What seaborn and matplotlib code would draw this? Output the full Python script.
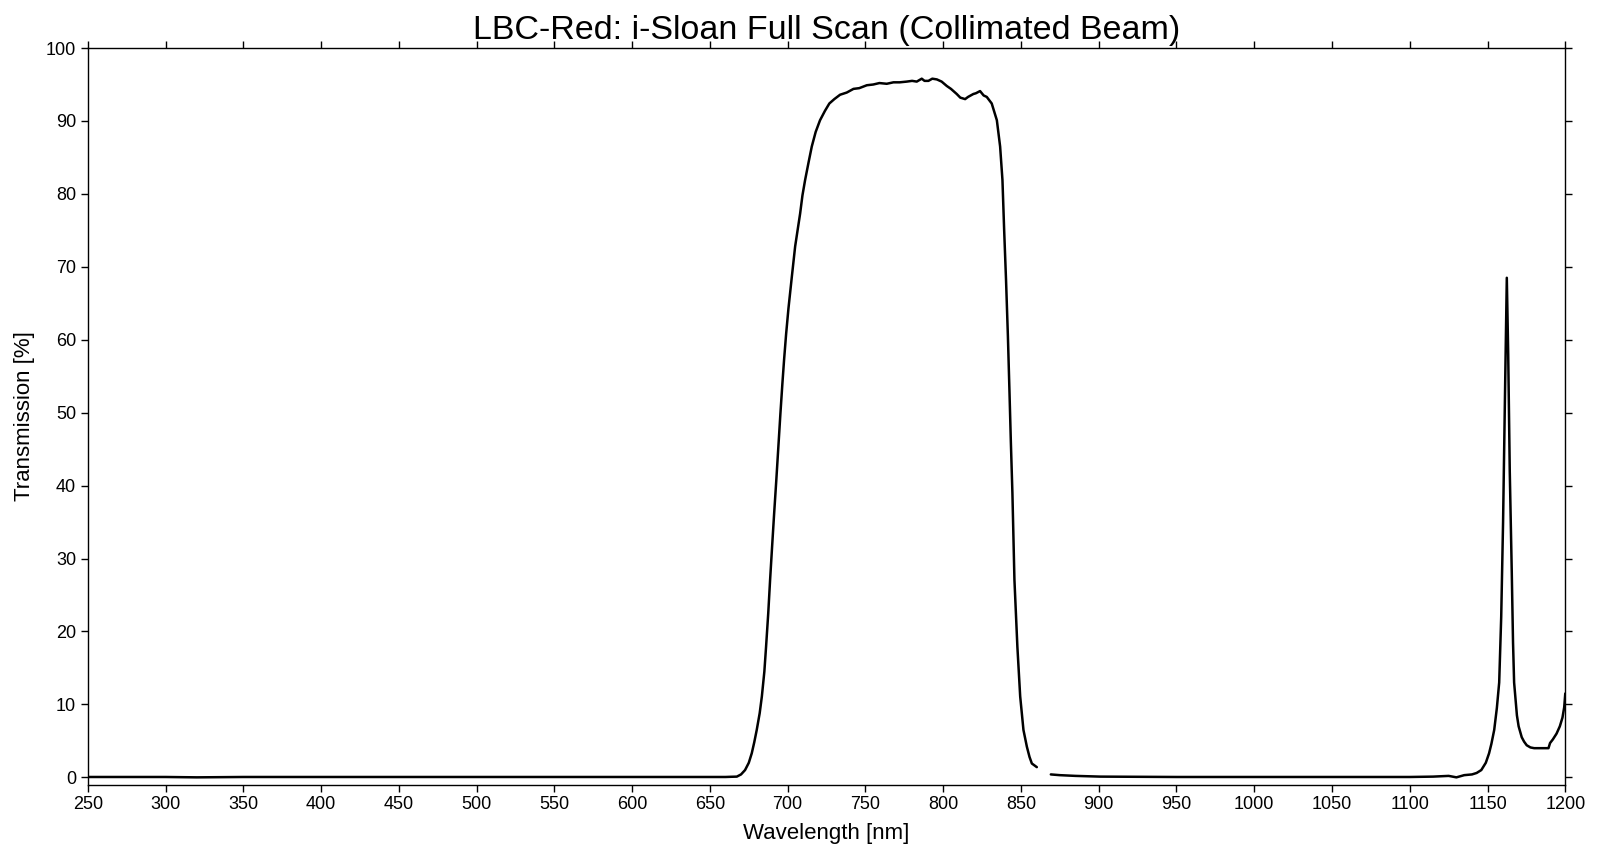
import numpy as np
import pandas as pd
import matplotlib
matplotlib.use('Agg')
import matplotlib.pyplot as plt
import seaborn as sns

sns.set_style('ticks')
plt.rcParams['font.family'] = ['Liberation Sans', 'DejaVu Sans']
plt.rcParams['text.color'] = 'black'
plt.rcParams['axes.labelcolor'] = 'black'
plt.rcParams['xtick.color'] = 'black'
plt.rcParams['ytick.color'] = 'black'

# --- data (wavelength nm, transmission %) ---
# first segment: 250 nm up to the detector change near 861 nm
wave_a = [250, 300, 320, 350, 400, 450, 500, 550, 600, 640, 660, 664, 667.3,
          670, 672.6, 675, 676.9, 678.5, 680.1, 682, 683.4, 685, 686.1, 687.5,
          688.7, 690, 691.3, 692.7, 694, 695.3, 696.6, 697.7, 699, 700.5,
          702.6, 704.8, 706.5, 708, 709.5, 711.2, 713.5, 715.5, 718, 720.8,
          724, 726.8, 730, 733.7, 738, 742.3, 746, 750.9, 755, 759, 763.7,
          768, 772, 776.6, 780, 783, 786.2, 788, 790.5, 793, 795.9, 799,
          802.3, 805, 808.7, 811, 814.1, 816, 819.4, 821, 823.7, 826, 828,
          831.2, 834.5, 836.6, 838.1, 839.2, 840.4, 841.6, 842.6, 843.5,
          844.5, 845.8, 847.7, 849.5, 851.6, 853.8, 855.5, 857, 860.2]
trans_a = [0.05, 0.05, 0.0, 0.05, 0.05, 0.05, 0.05, 0.05, 0.05, 0.05, 0.05,
           0.08, 0.1, 0.4, 1.0, 2.0, 3.3, 4.8, 6.5, 8.8, 11.1, 14.5, 17.9,
           22.5, 27.1, 31.7, 36.2, 40.8, 45.3, 49.8, 54.0, 57.3, 60.8, 64.3,
           68.5, 72.8, 75.2, 77.3, 79.8, 81.9, 84.4, 86.5, 88.5, 90.1, 91.4,
           92.4, 93.0, 93.6, 93.9, 94.4, 94.5, 94.9, 95.0, 95.2, 95.1, 95.3,
           95.3, 95.4, 95.5, 95.4, 95.8, 95.5, 95.5, 95.8, 95.7, 95.4, 94.8,
           94.4, 93.7, 93.2, 93.0, 93.3, 93.7, 93.8, 94.1, 93.5, 93.3, 92.4,
           90.1, 86.5, 81.9, 75.0, 68.2, 60.5, 53.0, 46.0, 39.0, 27.1, 17.9,
           11.1, 6.5, 4.2, 2.8, 1.9, 1.4]

# second segment: 869 nm to 1200 nm
wave_b = [869.2, 875, 885, 901, 950, 1000, 1050, 1080, 1100, 1115, 1125, 1130,
          1135, 1140, 1143, 1146, 1148.9, 1151, 1152.5, 1154.3, 1156,
          1157.5, 1158.8, 1160, 1161.2, 1162.4, 1163.3, 1164.3, 1165.6,
          1166.4, 1167.1, 1168.9, 1170, 1172, 1173.5, 1175.2, 1177.6, 1180,
          1185, 1189.2, 1190.2, 1192, 1194.4, 1196.5, 1198.2, 1199.3, 1200]
trans_b = [0.4, 0.3, 0.2, 0.1, 0.05, 0.05, 0.05, 0.05, 0.05, 0.1, 0.2, 0.0,
           0.3, 0.4, 0.6, 1.0, 2.0, 3.3, 4.6, 6.5, 9.5, 13.0, 22.0, 35.0,
           52.0, 68.5, 58.0, 42.0, 28.0, 18.5, 13.0, 8.5, 7.0, 5.5, 4.9,
           4.4, 4.1, 4.0, 4.0, 4.0, 4.7, 5.2, 6.0, 7.0, 8.2, 9.6, 11.5]

x_ticks = list(range(250, 1201, 50))
y_ticks = list(range(0, 101, 10))

df_a = pd.DataFrame({'Wavelength': wave_a, 'Transmission': trans_a})
df_b = pd.DataFrame({'Wavelength': wave_b, 'Transmission': trans_b})

fig = plt.figure(figsize=(16, 8.58), dpi=100)
ax = fig.add_axes([0.0549, 0.0855, 0.9234, 0.8585])

sns.lineplot(data=df_a, x='Wavelength', y='Transmission', color='black',
             linewidth=1.8, ax=ax, sort=False)
sns.lineplot(data=df_b, x='Wavelength', y='Transmission', color='black',
             linewidth=1.8, ax=ax, sort=False)

ax.set_xlim(250, 1200)
ax.set_ylim(-1, 100)
ax.set_xticks(x_ticks)
ax.set_yticks(y_ticks)
ax.tick_params(direction='out', length=5, width=1, labelsize=13,
               top=True, right=True, labeltop=False, labelright=False)
for sp in ax.spines.values():
    sp.set_visible(True)
    sp.set_linewidth(1)
    sp.set_color('black')

ax.set_xlabel('Wavelength [nm]', fontsize=16, labelpad=7)
ax.set_ylabel('Transmission [%]', fontsize=16, labelpad=8)
ax.set_title('LBC-Red: i-Sloan Full Scan (Collimated Beam)', fontsize=24.5, pad=6.5)

fig.savefig('out.png', dpi=100)
